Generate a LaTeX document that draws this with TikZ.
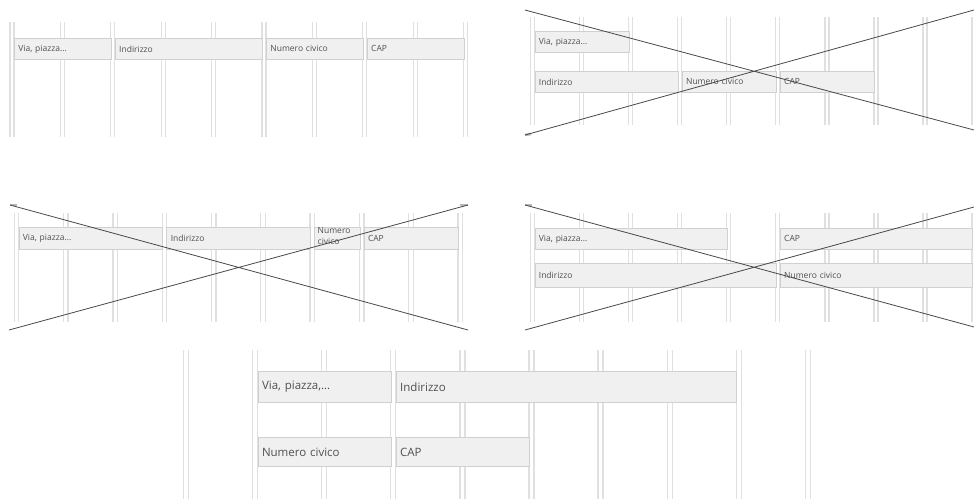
\documentclass[tikz,border=0pt]{standalone}
\usepackage{fontspec}
\setmainfont{Open Sans}
\definecolor{gridgray}{HTML}{E0E0E0}
\definecolor{boxfill}{HTML}{F0F0F0}
\definecolor{boxline}{HTML}{D0D0D0}
\definecolor{textgray}{HTML}{505050}
\definecolor{crossgray}{HTML}{484848}
\definecolor{tickgray}{HTML}{B8B8B8}

% column boundaries: x0, step, top, bottom, gap
\newcommand\colgrid[5]{%
  \foreach \k in {0,...,9}
    \draw[gridline] ({#1+\k*#2-#5/2},#3) -- ({#1+\k*#2-#5/2},#4)
                    ({#1+\k*#2+#5/2},#3) -- ({#1+\k*#2+#5/2},#4);}
% field: name, x1, y1, x2, y2, style, text
\newcommand\fieldbox[7]{%
  \pgfmathsetmacro\fldw{#4-#2-8}%
  \node[#6, text width=\fldw pt, minimum height={#5-#3}] (#1) at (#2,#3) {#7};}

\begin{document}
\begin{tikzpicture}[x=1pt, y=-1pt,
    gridline/.style={draw=gridgray, line width=1.3pt},
    field/.style={draw=boxline, fill=boxfill, line width=0.8pt, anchor=north west,
      inner xsep=4pt, inner ysep=0pt, text=textgray, align=left},
    fieldsm/.style={field, font=\fontsize{8.5}{9.5}\selectfont},
    fieldlg/.style={field, font=\fontsize{11.5}{13}\selectfont},
    cross/.style={draw=crossgray, line width=0.8pt},
    endtick/.style={draw=tickgray, line width=2.5pt}]
  \useasboundingbox (0,0) rectangle (974,499);

  % one row
  \colgrid{12}{50.4}{22}{137}{4}
  \fieldbox{via1}{14}{38}{110.8}{59}{fieldsm}{Via, piazza...}
  \fieldbox{ind1}{114.8}{38}{262}{59}{fieldsm}{Indirizzo}
  \fieldbox{num1}{266}{38}{362.8}{59}{fieldsm}{Numero civico}
  \fieldbox{cap1}{366.8}{38}{463.6}{59}{fieldsm}{CAP}

  % two rows, crossed
  \colgrid{532.5}{49.06}{17}{125}{4}
  \fieldbox{via2}{534.5}{31}{628.6}{52}{fieldsm}{Via, piazza...}
  \fieldbox{ind2}{534.5}{71}{677.7}{92}{fieldsm}{Indirizzo}
  \fieldbox{num2}{681.7}{71}{775.8}{92}{fieldsm}{Numero civico}
  \fieldbox{cap2}{779.8}{71}{873.9}{92}{fieldsm}{CAP}
  \coordinate (p2nw) at (525,10);  \coordinate (p2se) at (974,130);
  \coordinate (p2sw) at (525,135); \coordinate (p2ne) at (974,10);
  \draw[endtick] (p2sw) -- ++(6,-1);
  \draw[cross] (p2nw) -- (p2se) (p2sw) -- (p2ne);

  % one row, narrow field, crossed
  \colgrid{16.5}{49.3}{213}{322}{4.5}
  \fieldbox{via3}{18.5}{227}{162.4}{249}{fieldsm}{Via, piazza...}
  \fieldbox{ind3}{166.4}{227}{310.3}{249}{fieldsm}{Indirizzo}
  \fieldbox{num3}{314.3}{227}{359.6}{249}{fieldsm}{}
  \fieldbox{cap3}{363.6}{227}{458.2}{249}{fieldsm}{CAP}
  \node[text=textgray, font=\fontsize{8.5}{11.5}\selectfont, align=left,
    anchor=north west, inner sep=0pt] (num3t) at (317.5,227) {Numero\\civico};
  \coordinate (p3nw) at (10,205); \coordinate (p3se) at (468,330);
  \coordinate (p3sw) at (9,330);  \coordinate (p3ne) at (468,205);
  \draw[endtick] (p3nw) -- ++(7,0) (p3ne) -- ++(-8,0);
  \draw[cross] (p3nw) -- (p3se) (p3sw) -- (p3ne);

  % two rows, wide fields, crossed
  \colgrid{532.5}{49.06}{213}{322}{4}
  \fieldbox{via4}{534.5}{228}{726.7}{249}{fieldsm}{Via, piazza...}
  \fieldbox{cap4}{779.8}{228}{972}{249}{fieldsm}{CAP}
  \fieldbox{ind4}{534.5}{263}{775.8}{287}{fieldsm}{Indirizzo}
  \fieldbox{num4}{779.8}{263}{972}{287}{fieldsm}{Numero civico}
  \coordinate (p4nw) at (525,205); \coordinate (p4se) at (974,327);
  \coordinate (p4sw) at (525,330); \coordinate (p4ne) at (974,207);
  \draw[endtick] (p4nw) -- ++(7,0);
  \draw[cross] (p4nw) -- (p4se) (p4sw) -- (p4ne);

  % correct layout
  \colgrid{186}{69.1}{350}{499}{5}
  \fieldbox{via5}{257.6}{371}{390.8}{402}{fieldlg}{Via, piazza,...}
  \fieldbox{ind5}{395.8}{371}{736.3}{402}{fieldlg}{Indirizzo}
  \fieldbox{num5}{257.6}{437}{390.8}{466}{fieldlg}{Numero civico}
  \fieldbox{cap5}{395.8}{437}{529}{466}{fieldlg}{CAP}
\end{tikzpicture}
\end{document}
